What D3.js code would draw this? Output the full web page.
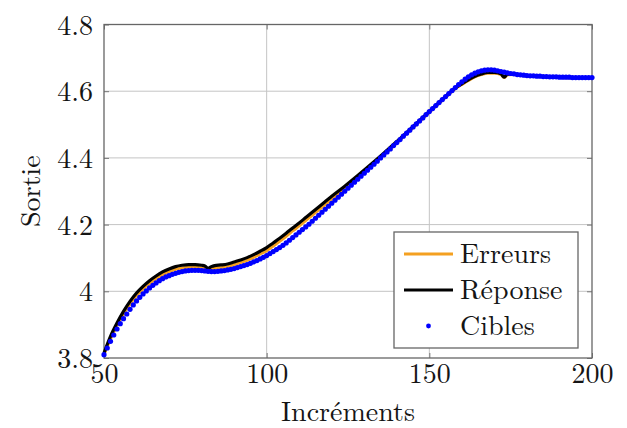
<!DOCTYPE html>
<html>
<head>
<meta charset="utf-8">
<script src="https://cdn.jsdelivr.net/npm/d3@7"></script>
<style>
  body { margin: 0; background: #fff; }
  svg { display: block; font-family: "Latin Modern Roman", "Liberation Serif", serif; }
</style>
</head>
<body>
<svg id="chart" width="627" height="428"></svg>
<script>
// Cibles: one target per increment, 50..200
var cibleStart = 50;
var cibles = [
  3.810, 3.830, 3.850, 3.869, 3.887, 3.903, 3.918, 3.932, 3.946, 3.959,
  3.971, 3.982, 3.992, 4.001, 4.010, 4.018, 4.025, 4.032, 4.038, 4.043,
  4.047, 4.051, 4.054, 4.057, 4.059, 4.061, 4.062, 4.063, 4.063, 4.063,
  4.062, 4.061, 4.060, 4.059, 4.059, 4.060, 4.061, 4.062, 4.064, 4.066,
  4.068, 4.071, 4.074, 4.077, 4.080, 4.084, 4.088, 4.092, 4.097, 4.102,
  4.107, 4.113, 4.119, 4.125, 4.131, 4.138, 4.145, 4.153, 4.161, 4.169,
  4.177, 4.185, 4.193, 4.201, 4.210, 4.219, 4.228, 4.237, 4.246, 4.255,
  4.264, 4.273, 4.282, 4.291, 4.300, 4.309, 4.318, 4.327, 4.336, 4.345,
  4.354, 4.363, 4.372, 4.381, 4.390, 4.400, 4.409, 4.418, 4.427, 4.437,
  4.446, 4.455, 4.465, 4.474, 4.483, 4.493, 4.502, 4.511, 4.520, 4.530,
  4.539, 4.548, 4.557, 4.566, 4.575, 4.584, 4.593, 4.602, 4.611, 4.620,
  4.628, 4.636, 4.643, 4.649, 4.654, 4.658, 4.661, 4.663, 4.664, 4.664,
  4.663, 4.661, 4.659, 4.657, 4.655, 4.653, 4.652, 4.650, 4.649, 4.648,
  4.647, 4.646, 4.646, 4.645, 4.645, 4.644, 4.644, 4.643, 4.643, 4.643,
  4.642, 4.642, 4.642, 4.642, 4.641, 4.641, 4.641, 4.641, 4.641, 4.641,
  4.641
];

// Réponse and Erreurs share the same increments
var lineX = [50, 52, 54, 56, 58, 60, 62, 64, 66, 68, 70, 72, 74, 76, 78, 80, 81, 82, 83, 84,
  86, 88, 90, 92, 94, 96, 98, 100, 102, 104, 106, 108, 110, 112, 114, 116, 118, 120,
  124, 128, 132, 136, 140, 145, 150, 155, 158, 160, 162, 164, 166, 168, 170, 172, 173,
  174, 176, 180, 185, 190, 195, 200];
var reponse = [3.815, 3.865, 3.905, 3.940, 3.970, 3.995, 4.015, 4.032, 4.046, 4.058, 4.067,
  4.074, 4.078, 4.080, 4.080, 4.078, 4.076, 4.069, 4.074, 4.077,
  4.079, 4.082, 4.088, 4.094, 4.101, 4.110, 4.120, 4.131, 4.145, 4.159, 4.174, 4.190,
  4.205, 4.221, 4.237, 4.253, 4.269, 4.285,
  4.315, 4.347, 4.380, 4.414, 4.449, 4.494, 4.539, 4.584, 4.610, 4.622, 4.634, 4.645,
  4.652, 4.656, 4.656, 4.652, 4.642,
  4.651, 4.651, 4.647, 4.644, 4.642, 4.641, 4.641];
var erreurs = [3.810, 3.857, 3.897, 3.932, 3.962, 3.987, 4.007, 4.024, 4.038, 4.050, 4.059,
  4.066, 4.070, 4.072, 4.072, 4.070, 4.068, 4.062, 4.066, 4.069,
  4.071, 4.074, 4.080, 4.086, 4.093, 4.102, 4.112, 4.122, 4.136, 4.150, 4.165, 4.181,
  4.196, 4.212, 4.228, 4.244, 4.260, 4.276,
  4.307, 4.340, 4.374, 4.409, 4.445, 4.491, 4.537, 4.582, 4.608, 4.620, 4.632, 4.643,
  4.650, 4.654, 4.654, 4.650, 4.641,
  4.649, 4.650, 4.646, 4.643, 4.641, 4.640, 4.640];

var xTicks = [50, 100, 150, 200];
var yTicks = [3.8, 4.0, 4.2, 4.4, 4.6, 4.8];
var legendNames = ["Erreurs", "Réponse", "Cibles"];

var orange = "#f4a020", blue = "#0000ff", ink = "#151515";
var fontFam = "'Latin Modern Roman', 'Liberation Serif', serif";

var svg = d3.select("#chart");
var pLeft = 104, pRight = 592, pTop = 24.5, pBottom = 358;

var x = d3.scaleLinear().domain([50, 200]).range([pLeft, pRight]);
var y = d3.scaleLinear().domain([3.8, 4.8]).range([pBottom, pTop]);

// grid
var grid = svg.append("g").attr("stroke", "#c4c4c4").attr("stroke-width", 1);
grid.selectAll("line.gx").data(xTicks.slice(1, -1)).enter().append("line")
  .attr("x1", function(d) { return x(d); }).attr("x2", function(d) { return x(d); })
  .attr("y1", pTop).attr("y2", pBottom);
grid.selectAll("line.gy").data(yTicks.slice(1, -1)).enter().append("line")
  .attr("y1", function(d) { return y(d); }).attr("y2", function(d) { return y(d); })
  .attr("x1", pLeft).attr("x2", pRight);

// axes with inner ticks
var axB = svg.append("g").attr("transform", "translate(0," + pBottom + ")")
  .call(d3.axisBottom(x).tickValues(xTicks).tickSize(-5).tickPadding(8).tickFormat(d3.format("d")));
var axT = svg.append("g").attr("transform", "translate(0," + pTop + ")")
  .call(d3.axisTop(x).tickValues(xTicks).tickSize(-5).tickFormat(""));
var axL = svg.append("g").attr("transform", "translate(" + pLeft + ",0)")
  .call(d3.axisLeft(y).tickValues(yTicks).tickSize(-5).tickPadding(11)
    .tickFormat(function(d) { return d === 4 ? "4" : d3.format(".1f")(d); }));
var axR = svg.append("g").attr("transform", "translate(" + pRight + ",0)")
  .call(d3.axisRight(y).tickValues(yTicks).tickSize(-5).tickFormat(""));
[axB, axT, axL, axR].forEach(function(a) {
  a.select(".domain").remove();
  a.selectAll(".tick line").attr("stroke", "#777");
  a.selectAll("text").attr("fill", ink).style("font-size", "28px")
    .style("font-family", fontFam);
});
axL.selectAll("text").attr("dy", "0.34em");
axB.selectAll("text").attr("dy", "0.6em");

// frame
svg.append("rect").attr("x", pLeft).attr("y", pTop)
  .attr("width", pRight - pLeft).attr("height", pBottom - pTop)
  .attr("fill", "none").attr("stroke", "#666").attr("stroke-width", 1.3);

// series
var line = d3.line()
  .x(function(d) { return x(d[0]); })
  .y(function(d) { return y(d[1]); })
  .curve(d3.curveMonotoneX);

svg.append("path").datum(d3.zip(lineX, erreurs))
  .attr("d", line).attr("fill", "none").attr("stroke", orange).attr("stroke-width", 3);
svg.append("path").datum(d3.zip(lineX, reponse))
  .attr("d", line).attr("fill", "none").attr("stroke", "#000").attr("stroke-width", 3.2);

svg.append("g").selectAll("circle").data(cibles).enter().append("circle")
  .attr("cx", function(d, i) { return x(cibleStart + i); })
  .attr("cy", function(d) { return y(d); })
  .attr("r", 2.6).attr("fill", blue);

// labels
svg.append("text").attr("x", (pLeft + pRight) / 2).attr("y", 421)
  .attr("text-anchor", "middle").style("font-size", "28px").attr("fill", ink)
  .text("Incréments");
svg.append("text").attr("transform", "translate(40," + ((pTop + pBottom) / 2) + ") rotate(-90)")
  .attr("text-anchor", "middle").style("font-size", "28px").attr("fill", ink)
  .text("Sortie");

// legend
var lg = svg.append("g");
lg.append("rect").attr("x", 394).attr("y", 232).attr("width", 184).attr("height", 116)
  .attr("fill", "#fff").attr("stroke", "#666").attr("stroke-width", 1.3);
var rowY = [254, 290, 326];
lg.append("line").attr("x1", 404).attr("x2", 453).attr("y1", rowY[0]).attr("y2", rowY[0])
  .attr("stroke", orange).attr("stroke-width", 3);
lg.append("line").attr("x1", 404).attr("x2", 453).attr("y1", rowY[1]).attr("y2", rowY[1])
  .attr("stroke", "#000").attr("stroke-width", 3.2);
lg.append("circle").attr("cx", 428.5).attr("cy", rowY[2]).attr("r", 2.4).attr("fill", blue);
lg.selectAll("text").data(legendNames).enter().append("text")
  .attr("x", 460).attr("y", function(d, i) { return rowY[i]; }).attr("dy", "0.33em")
  .style("font-size", "28px").attr("fill", ink)
  .text(function(d) { return d; });
</script>
</body>
</html>
